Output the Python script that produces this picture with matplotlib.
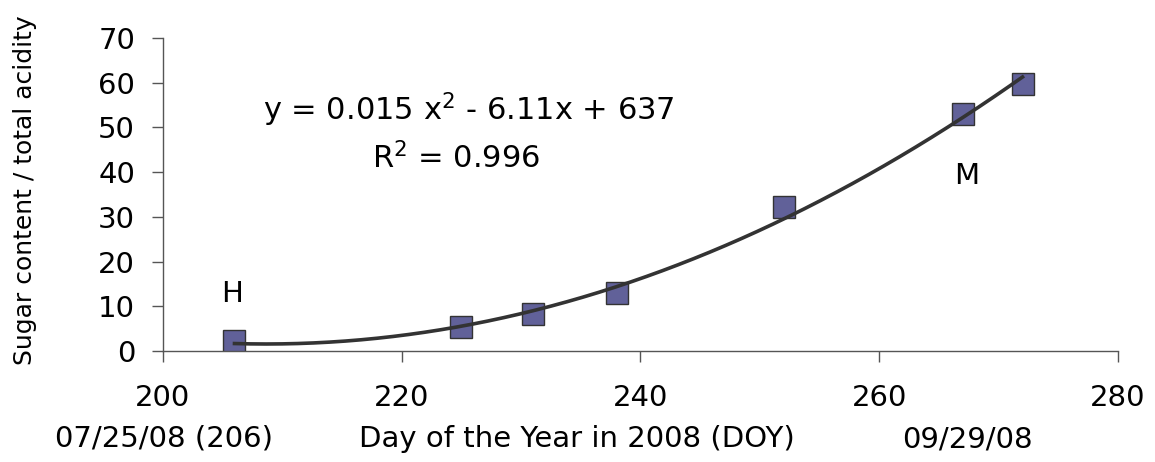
import numpy as np
import matplotlib
matplotlib.use("Agg")
import matplotlib.pyplot as plt

# Data
doy = [206, 225, 231, 238, 252, 267, 272]
ratio = [2.3, 5.3, 8.2, 12.9, 32.2, 53.1, 59.7]
x_ticks = [200, 220, 240, 260, 280]
y_ticks = [0, 10, 20, 30, 40, 50, 60, 70]

plt.rcParams['font.family'] = ['DejaVu Sans']
plt.rcParams['mathtext.fontset'] = 'dejavusans'
plt.rcParams['mathtext.default'] = 'regular'

fig = plt.figure(figsize=(11.55, 4.62), dpi=100)
ax = fig.add_axes([0.141, 0.240, 0.827, 0.678])

# quadratic trend line fitted to the points
coef = np.polyfit(doy, ratio, 2)
xs = np.linspace(min(doy), max(doy), 200)
ax.plot(xs, np.polyval(coef, xs), color='#333333', lw=2.6, zorder=3)

ax.plot(doy, ratio, 's', ms=15.5, mfc='#616199', mec='#333333', mew=1.0, zorder=2)

ax.set_xlim(200, 280)
ax.set_ylim(0, 70)
ax.set_xticks(x_ticks)
ax.set_yticks(y_ticks)
for s in ['top', 'right']:
    ax.spines[s].set_visible(False)
for s in ['left', 'bottom']:
    ax.spines[s].set_color('#555555')
    ax.spines[s].set_linewidth(1.0)
ax.tick_params(axis='both', labelsize=21, color='#555555', length=8, width=1.0)
ax.tick_params(axis='x', pad=16)
ax.tick_params(axis='y', pad=12)

ax.set_ylabel('Sugar content / total acidity', fontsize=18)
ax.yaxis.set_label_coords(-0.132, 0.514)

ax.text(0.320, 0.77, 'y = 0.015 x$^2$ - 6.11x + 637', transform=ax.transAxes,
        fontsize=22, ha='center', va='center')
ax.text(0.307, 0.617, 'R$^2$ = 0.996', transform=ax.transAxes,
        fontsize=22, ha='center', va='center')
ax.text(205.8, 12.7, 'H', fontsize=21, ha='center', va='center')
ax.text(267.3, 39.1, 'M', fontsize=21, ha='center', va='center')

fig.text(164 / 1155, 1 - 439 / 462, '07/25/08 (206)', fontsize=21, ha='center', va='center')
fig.text(577 / 1155, 1 - 439 / 462, 'Day of the Year in 2008 (DOY)', fontsize=21, ha='center', va='center')
fig.text(967 / 1155, 1 - 439 / 462, '09/29/08', fontsize=21, ha='center', va='center')

fig.savefig('out.png', dpi=100)
